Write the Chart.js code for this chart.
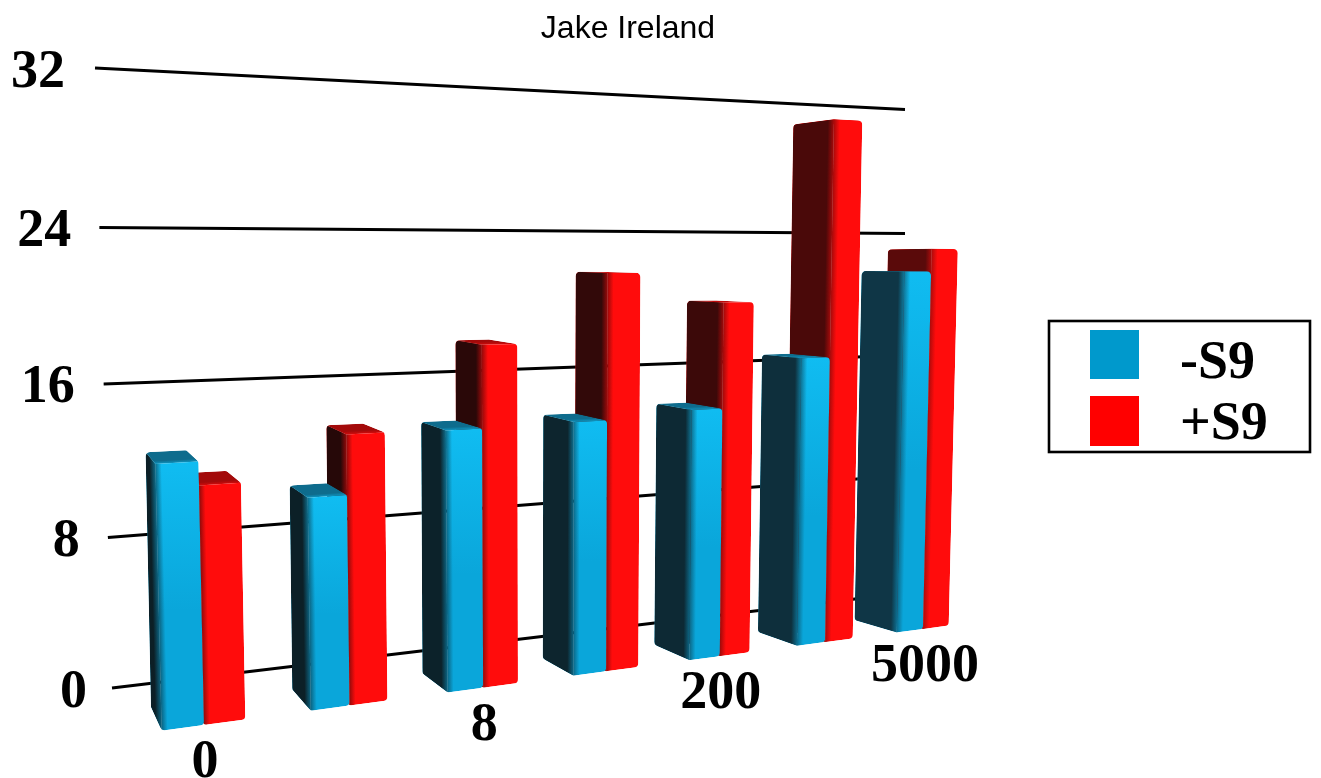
<!DOCTYPE html>
<html>
<head>
<meta charset="utf-8">
<title>Jake Ireland</title>
<script src="https://cdn.jsdelivr.net/npm/chart.js@4/dist/chart.umd.min.js"></script>
<style>
  html, body { margin: 0; padding: 0; background: #fff; }
  canvas { display: block; }
</style>
</head>
<body>
<canvas id="chart" width="1321" height="778"></canvas>
<script>
// Chart values
const categories = ['0', '', '8', '', '200', '', '5000'];
const seriesNames = ['-S9', '+S9'];
const minusS9 = [12.85, 10.75, 13.75, 13.85, 14.2, 16.9, 21.9];
const plusS9 = [11.7, 13.8, 18.1, 21.8, 20.15, 30.6, 23.25];
const valueMax = 32;
const valueStep = 8;
const chartTitle = 'Jake Ireland';

// Perspective set-up: each plane is given by where its corners land on the page,
// ordered low-left, low-right, high-right, high-left.
const WALL_PLANE = [[112, 688], [905, 593], [916, 110], [95, 68]];
const WALL_END_X = 905;
const FRONT_PLANE = [[204, 725], [923, 629], [935, 101], [190, 53]];
const BACK_PLANE = [[191, 702], [880, 617], [891, 107], [179, 61]];

const LABEL_FONT = 'bold 54px "Liberation Serif", "Times New Roman", serif';
const SERIES_COLOURS = ['#0099cc', '#ff0000'];
const SHADES = [
  { faceTop: '#10bcf1', faceLow: '#0aa6da', top: '#0e6c8d', sideNear: '#0c1f26', sideFar: '#0f3646' },
  { faceTop: '#ff0c0c', faceLow: '#ff0c0c', top: '#a30a0a', sideNear: '#240808', sideFar: '#5a0a0a' }
];
const LEGEND_BOX = { left: 1049, top: 321, right: 1310, bottom: 452, swatchX: 1090, swatchSize: 49, textX: 1180, rows: [330, 396], baselines: [378, 439] };
// Small horizontal offsets of the value labels, lowest tick first
const VALUE_LABEL_SHIFT = [3, 0, -1, 0, -2];

// Projective map from the unit square on to a quadrilateral
function planeMap(q) {
  const [[x0, y0], [x1, y1], [x2, y2], [x3, y3]] = q;
  const dx1 = x1 - x2, dx2 = x3 - x2, sx = x0 - x1 + x2 - x3;
  const dy1 = y1 - y2, dy2 = y3 - y2, sy = y0 - y1 + y2 - y3;
  const den = dx1 * dy2 - dx2 * dy1;
  const g = (sx * dy2 - dx2 * sy) / den;
  const h = (dx1 * sy - sx * dy1) / den;
  const a = x1 - x0 + g * x1, b = x3 - x0 + h * x3;
  const d = y1 - y0 + g * y1, e = y3 - y0 + h * y3;
  return (s, t) => {
    const w = g * s + h * t + 1;
    return { x: (a * s + b * t + x0) / w, y: (d * s + e * t + y0) / w };
  };
}
const toWall = planeMap(WALL_PLANE);
const toFront = planeMap(FRONT_PLANE);
const toBack = planeMap(BACK_PLANE);

function mix(c1, c2, t) {
  const p = c => [1, 3, 5].map(k => parseInt(c.slice(k, k + 2), 16));
  const a = p(c1), b = p(c2);
  return '#' + a.map((v, k) => Math.round(v + (b[k] - v) * t).toString(16).padStart(2, '0')).join('');
}

function hull(points) {
  const pts = points.slice().sort((p, q) => p.x - q.x || p.y - q.y);
  const cross = (o, p, q) => (p.x - o.x) * (q.y - o.y) - (p.y - o.y) * (q.x - o.x);
  const half = list => {
    const out = [];
    for (const p of list) {
      while (out.length > 1 && cross(out[out.length - 2], out[out.length - 1], p) <= 0) out.pop();
      out.push(p);
    }
    out.pop();
    return out;
  };
  return half(pts).concat(half(pts.slice().reverse()));
}

function roundedPath(ctx, pts, r) {
  ctx.beginPath();
  const n = pts.length;
  const start = { x: (pts[n - 1].x + pts[0].x) / 2, y: (pts[n - 1].y + pts[0].y) / 2 };
  ctx.moveTo(start.x, start.y);
  for (let i = 0; i < n; i++) {
    const p = pts[i], q = pts[(i + 1) % n];
    ctx.arcTo(p.x, p.y, q.x, q.y, r);
  }
  ctx.closePath();
}

function fillQuad(ctx, pts, style) {
  ctx.beginPath();
  pts.forEach((p, k) => (k ? ctx.lineTo(p.x, p.y) : ctx.moveTo(p.x, p.y)));
  ctx.closePath();
  ctx.fillStyle = style;
  ctx.fill();
}

// Gradient that blends two colours across the edge a-b
function edgeBlend(ctx, a, b, half, before, after) {
  const ex = b.x - a.x, ey = b.y - a.y, len = Math.hypot(ex, ey) || 1;
  const nx = -ey / len, ny = ex / len;
  const g = ctx.createLinearGradient(a.x - nx * half, a.y - ny * half, a.x + nx * half, a.y + ny * half);
  g.addColorStop(0, before);
  g.addColorStop(1, after);
  return g;
}

function drawBox(ctx, f, b, shade, depthT) {
  // f and b hold the four corners on the front and rear planes
  const side = mix(shade.sideNear, shade.sideFar, depthT * depthT);
  ctx.save();
  roundedPath(ctx, hull([f.lb, f.rb, f.rt, f.lt, b.lb, b.rb, b.rt, b.lt]), 4.5);
  ctx.clip();

  // top face, lit along its front edge
  const topGrad = edgeBlend(ctx, f.rt, f.lt, 3, shade.faceTop, shade.top);
  fillQuad(ctx, [f.lt, f.rt, b.rt, b.lt], topGrad);

  // front and side start from the lit colour, brighter toward the top
  const lift = ctx.createLinearGradient(0, f.lt.y, 0, f.lb.y);
  lift.addColorStop(0, shade.faceTop);
  lift.addColorStop(0.55, shade.faceLow);
  fillQuad(ctx, [b.lb, b.lt, f.lt, f.lb], lift);
  fillQuad(ctx, [f.lb, f.lt, f.rt, f.rb], lift);

  // the shaded side fades out across the soft upright edge
  const shadow = edgeBlend(ctx, f.lb, f.lt, 6, side, side + '00');
  fillQuad(ctx, [b.lb, b.lt, f.lt, f.lb], shadow);
  fillQuad(ctx, [f.lb, f.lt, f.rt, f.rb], shadow);
  ctx.restore();
}

const perspectivePlugin = {
  id: 'perspective',
  afterLayout(chart) {
    // the heading sits over the bars rather than over the whole page
    if (chart.titleBlock) chart.titleBlock.right -= 65;
  },
  beforeDatasetsDraw(chart) {
    const { ctx, scales: { x, y } } = chart;
    const first = x.getPixelForValue(0), last = x.getPixelForValue(categories.length - 1);
    const sOf = px => (px - first) / (last - first);
    const tOf = py => (y.getPixelForValue(0) - py) / (y.getPixelForValue(0) - y.getPixelForValue(valueMax));
    const ticks = y.ticks.slice().sort((p, q) => p.value - q.value);

    // grid lines
    ctx.save();
    ctx.strokeStyle = '#000';
    ctx.lineWidth = 3;
    ticks.forEach(tick => {
      const t = tOf(y.getPixelForValue(tick.value));
      const p = toWall(0, t), q = toWall(1, t);
      const stop = (WALL_END_X - p.x) / (q.x - p.x);
      ctx.beginPath();
      ctx.moveTo(p.x, p.y);
      ctx.lineTo(WALL_END_X, p.y + (q.y - p.y) * stop);
      ctx.stroke();
    });
    ctx.restore();

    // value labels
    ctx.save();
    ctx.font = LABEL_FONT;
    ctx.fillStyle = '#000';
    ctx.textAlign = 'right';
    ctx.textBaseline = 'alphabetic';
    ticks.forEach((tick, n) => {
      const p = toWall(0, tOf(y.getPixelForValue(tick.value)));
      ctx.fillText(String(tick.value), p.x - 28 + VALUE_LABEL_SHIFT[n], p.y + 18.5);
    });
    ctx.restore();

    // bars, painted from the far right toward the viewer
    const metas = chart.data.datasets.map((d, k) => chart.getDatasetMeta(k));
    for (let i = categories.length - 1; i >= 0; i--) {
      for (let k = metas.length - 1; k >= 0; k--) {
        const el = metas[k].data[i];
        const sl = sOf(el.x - el.width / 2), sr = sOf(el.x + el.width / 2);
        const top = tOf(el.y), low = tOf(el.base);
        const corners = map => ({ lb: map(sl, low), rb: map(sr, low), rt: map(sr, top), lt: map(sl, top) });
        drawBox(ctx, corners(toFront), corners(toBack), SHADES[k], i / (categories.length - 1));
      }
    }

    // category labels
    ctx.save();
    ctx.font = LABEL_FONT;
    ctx.fillStyle = '#000';
    ctx.textAlign = 'center';
    ctx.textBaseline = 'alphabetic';
    categories.forEach((label, i) => {
      if (!label) return;
      const p = toFront(sOf(x.getPixelForValue(i)), 0);
      ctx.fillText(label, p.x + (i === categories.length - 1 ? 2 : 1), p.y + 52);
    });
    ctx.restore();

    // legend
    const L = LEGEND_BOX;
    ctx.save();
    ctx.fillStyle = '#fff';
    ctx.fillRect(L.left, L.top, L.right - L.left, L.bottom - L.top);
    ctx.strokeStyle = '#000';
    ctx.lineWidth = 2.6;
    ctx.strokeRect(L.left, L.top, L.right - L.left, L.bottom - L.top);
    ctx.font = LABEL_FONT;
    ctx.textAlign = 'left';
    ctx.textBaseline = 'alphabetic';
    chart.data.datasets.forEach((d, k) => {
      ctx.fillStyle = d.backgroundColor;
      ctx.fillRect(L.swatchX, L.rows[k], L.swatchSize, L.swatchSize + k);
      ctx.fillStyle = '#000';
      ctx.fillText(d.label, L.textX, L.baselines[k]);
    });
    ctx.restore();
    return false;
  }
};

new Chart(document.getElementById('chart'), {
  type: 'bar',
  data: {
    labels: categories,
    datasets: [
      { label: seriesNames[0], data: minusS9, backgroundColor: SERIES_COLOURS[0] },
      { label: seriesNames[1], data: plusS9, backgroundColor: SERIES_COLOURS[1] }
    ]
  },
  options: {
    responsive: false,
    animation: false,
    events: [],
    categoryPercentage: 0.55,
    barPercentage: 1,
    layout: { padding: 0 },
    scales: {
      x: { display: false, offset: true, grid: { display: false } },
      y: { display: false, min: 0, max: valueMax, ticks: { stepSize: valueStep }, grid: { display: false } }
    },
    plugins: {
      legend: { display: false },
      tooltip: { enabled: false },
      title: {
        display: true,
        text: chartTitle,
        color: '#000',
        font: { family: '"Liberation Sans", Arial, sans-serif', size: 32, weight: 'normal' },
        padding: { top: 10, bottom: 10 }
      }
    }
  },
  plugins: [perspectivePlugin]
});
</script>
</body>
</html>
